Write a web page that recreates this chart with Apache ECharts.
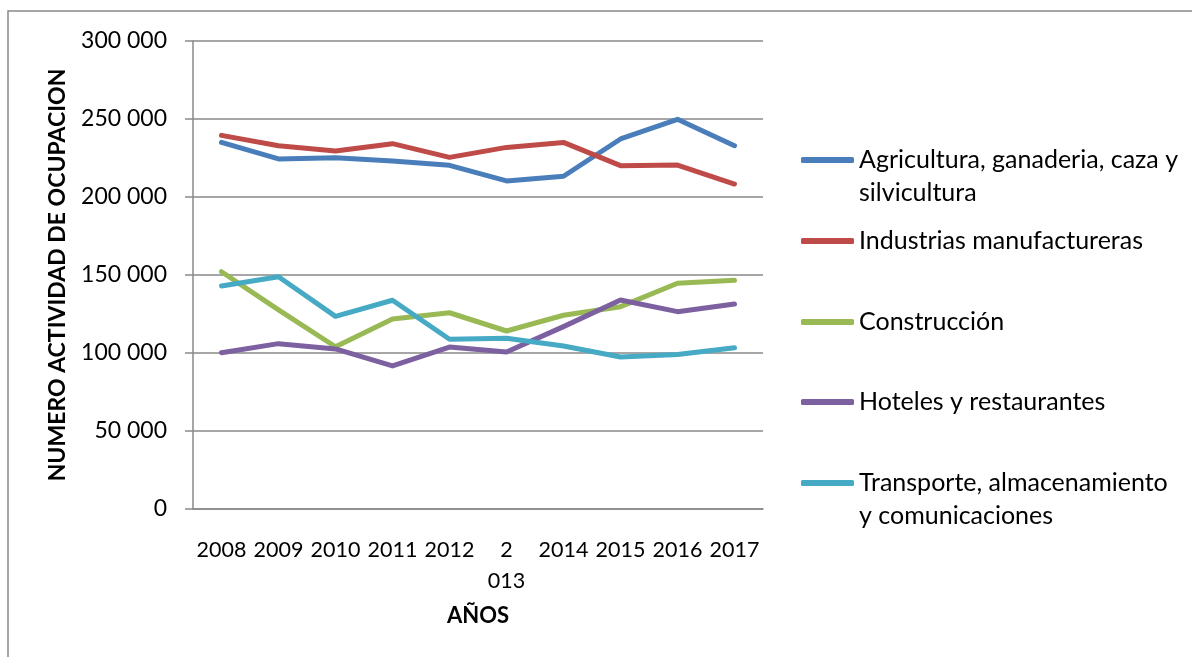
<!DOCTYPE html>
<html>
<head>
<meta charset="utf-8">
<script src="https://cdn.jsdelivr.net/npm/echarts@6/dist/echarts.min.js"></script>
<style>
  html, body { margin: 0; padding: 0; background: #fff; }
  #chart { width: 1192px; height: 657px; }
</style>
</head>
<body>
<div id="chart"></div>
<script>
const years = ['2008', '2009', '2010', '2011', '2012', '2013', '2014', '2015', '2016', '2017'];

const agricultura = [235000, 224400, 225200, 223000, 220300, 210300, 213300, 237200, 249800, 232900];
const industrias = [239500, 232900, 229500, 234200, 225400, 231800, 235000, 220100, 220500, 208300];
const construccion = [152100, 127600, 104000, 121800, 125800, 114100, 124200, 129700, 144700, 146600];
const hoteles = [100200, 106000, 102600, 91700, 103800, 100600, 116900, 134000, 126500, 131400];
const transporte = [143000, 148900, 123500, 133800, 108800, 109400, 104500, 97400, 99100, 103300];

const names = [
  'Agricultura, ganaderia, caza y silvicultura',
  'Industrias manufactureras',
  'Construcción',
  'Hoteles y restaurantes',
  'Transporte, almacenamiento y comunicaciones',
];
// wrapped text as shown in the legend (leading blank line keeps the icon on the first line)
const legendText = {
  'Agricultura, ganaderia, caza y silvicultura': '\nAgricultura, ganaderia, caza y\nsilvicultura',
  'Transporte, almacenamiento y comunicaciones': '\nTransporte, almacenamiento\ny comunicaciones',
};
const values = [agricultura, industrias, construccion, hoteles, transporte];
const colors = ['#4a7ebb', '#be4b48', '#98b954', '#7d60a0', '#46aac5'];

const FONT = 'Lato';
const gray = '#898989';
const LH = 33;

// legend rows: center of the first text line
const legendRows = [160, 241, 322, 402, 483];

function fmt(v) {
  return String(v).replace(/\B(?=(\d{3})+(?!\d))/g, ' ');
}

const chart = echarts.init(document.getElementById('chart'));

chart.setOption({
  animation: false,
  backgroundColor: '#fff',
  textStyle: { fontFamily: FONT },
  graphic: [{
    type: 'rect',
    shape: { x: 8, y: 11, width: 1400, height: 900 },
    style: { fill: 'none', stroke: gray, lineWidth: 1.5 },
    silent: true,
  }],
  grid: { left: 193, right: 429, top: 41, bottom: 148 },
  legend: names.map((n, i) => {
    const twoLines = !!legendText[n];
    return {
      data: [n],
      orient: 'vertical',
      left: 801,
      top: twoLines ? legendRows[i] - LH * 1.5 : legendRows[i] - LH / 2,
      padding: 0,
      itemWidth: 53,
      itemHeight: 6,
      itemGap: 0,
      icon: 'roundRect',
      formatter: (name) => legendText[name] || name,
      textStyle: { fontFamily: FONT, fontSize: 25, color: '#000', lineHeight: LH },
    };
  }),
  xAxis: {
    type: 'category',
    data: years,
    boundaryGap: true,
    name: 'AÑOS',
    nameLocation: 'middle',
    nameGap: 96,
    nameTextStyle: { fontFamily: FONT, fontSize: 22, fontWeight: 'bold', color: '#000' },
    axisLine: { lineStyle: { color: gray, width: 1.5 } },
    axisTick: { show: false },
    axisLabel: {
      interval: 0,
      margin: 26,
      color: '#000',
      fontFamily: FONT,
      fontSize: 21.5,
      lineHeight: 31,
      formatter: (v) => (v === '2013' ? '2\n013' : v),
      verticalAlign: 'top',
    },
  },
  yAxis: {
    type: 'value',
    min: 0,
    max: 300000,
    interval: 50000,
    name: 'NUMERO ACTIVIDAD DE OCUPACION',
    nameLocation: 'middle',
    nameGap: 124,
    nameRotate: 90,
    nameTextStyle: { fontFamily: FONT, fontSize: 23, fontWeight: 'bold', color: '#000' },
    axisLine: { show: true, lineStyle: { color: gray, width: 1.5 } },
    axisTick: { show: true, length: 8, lineStyle: { color: gray, width: 1.5 } },
    splitLine: { lineStyle: { color: gray, width: 1.5 } },
    axisLabel: {
      margin: 26,
      color: '#000',
      fontFamily: FONT,
      fontSize: 23,
      formatter: fmt,
    },
  },
  series: names.map((n, i) => ({
    name: n,
    type: 'line',
    data: values[i],
    symbol: 'none',
    smooth: false,
    color: colors[i],
    lineStyle: { width: 5, color: colors[i], cap: 'round', join: 'round' },
  })),
});
</script>
</body>
</html>
